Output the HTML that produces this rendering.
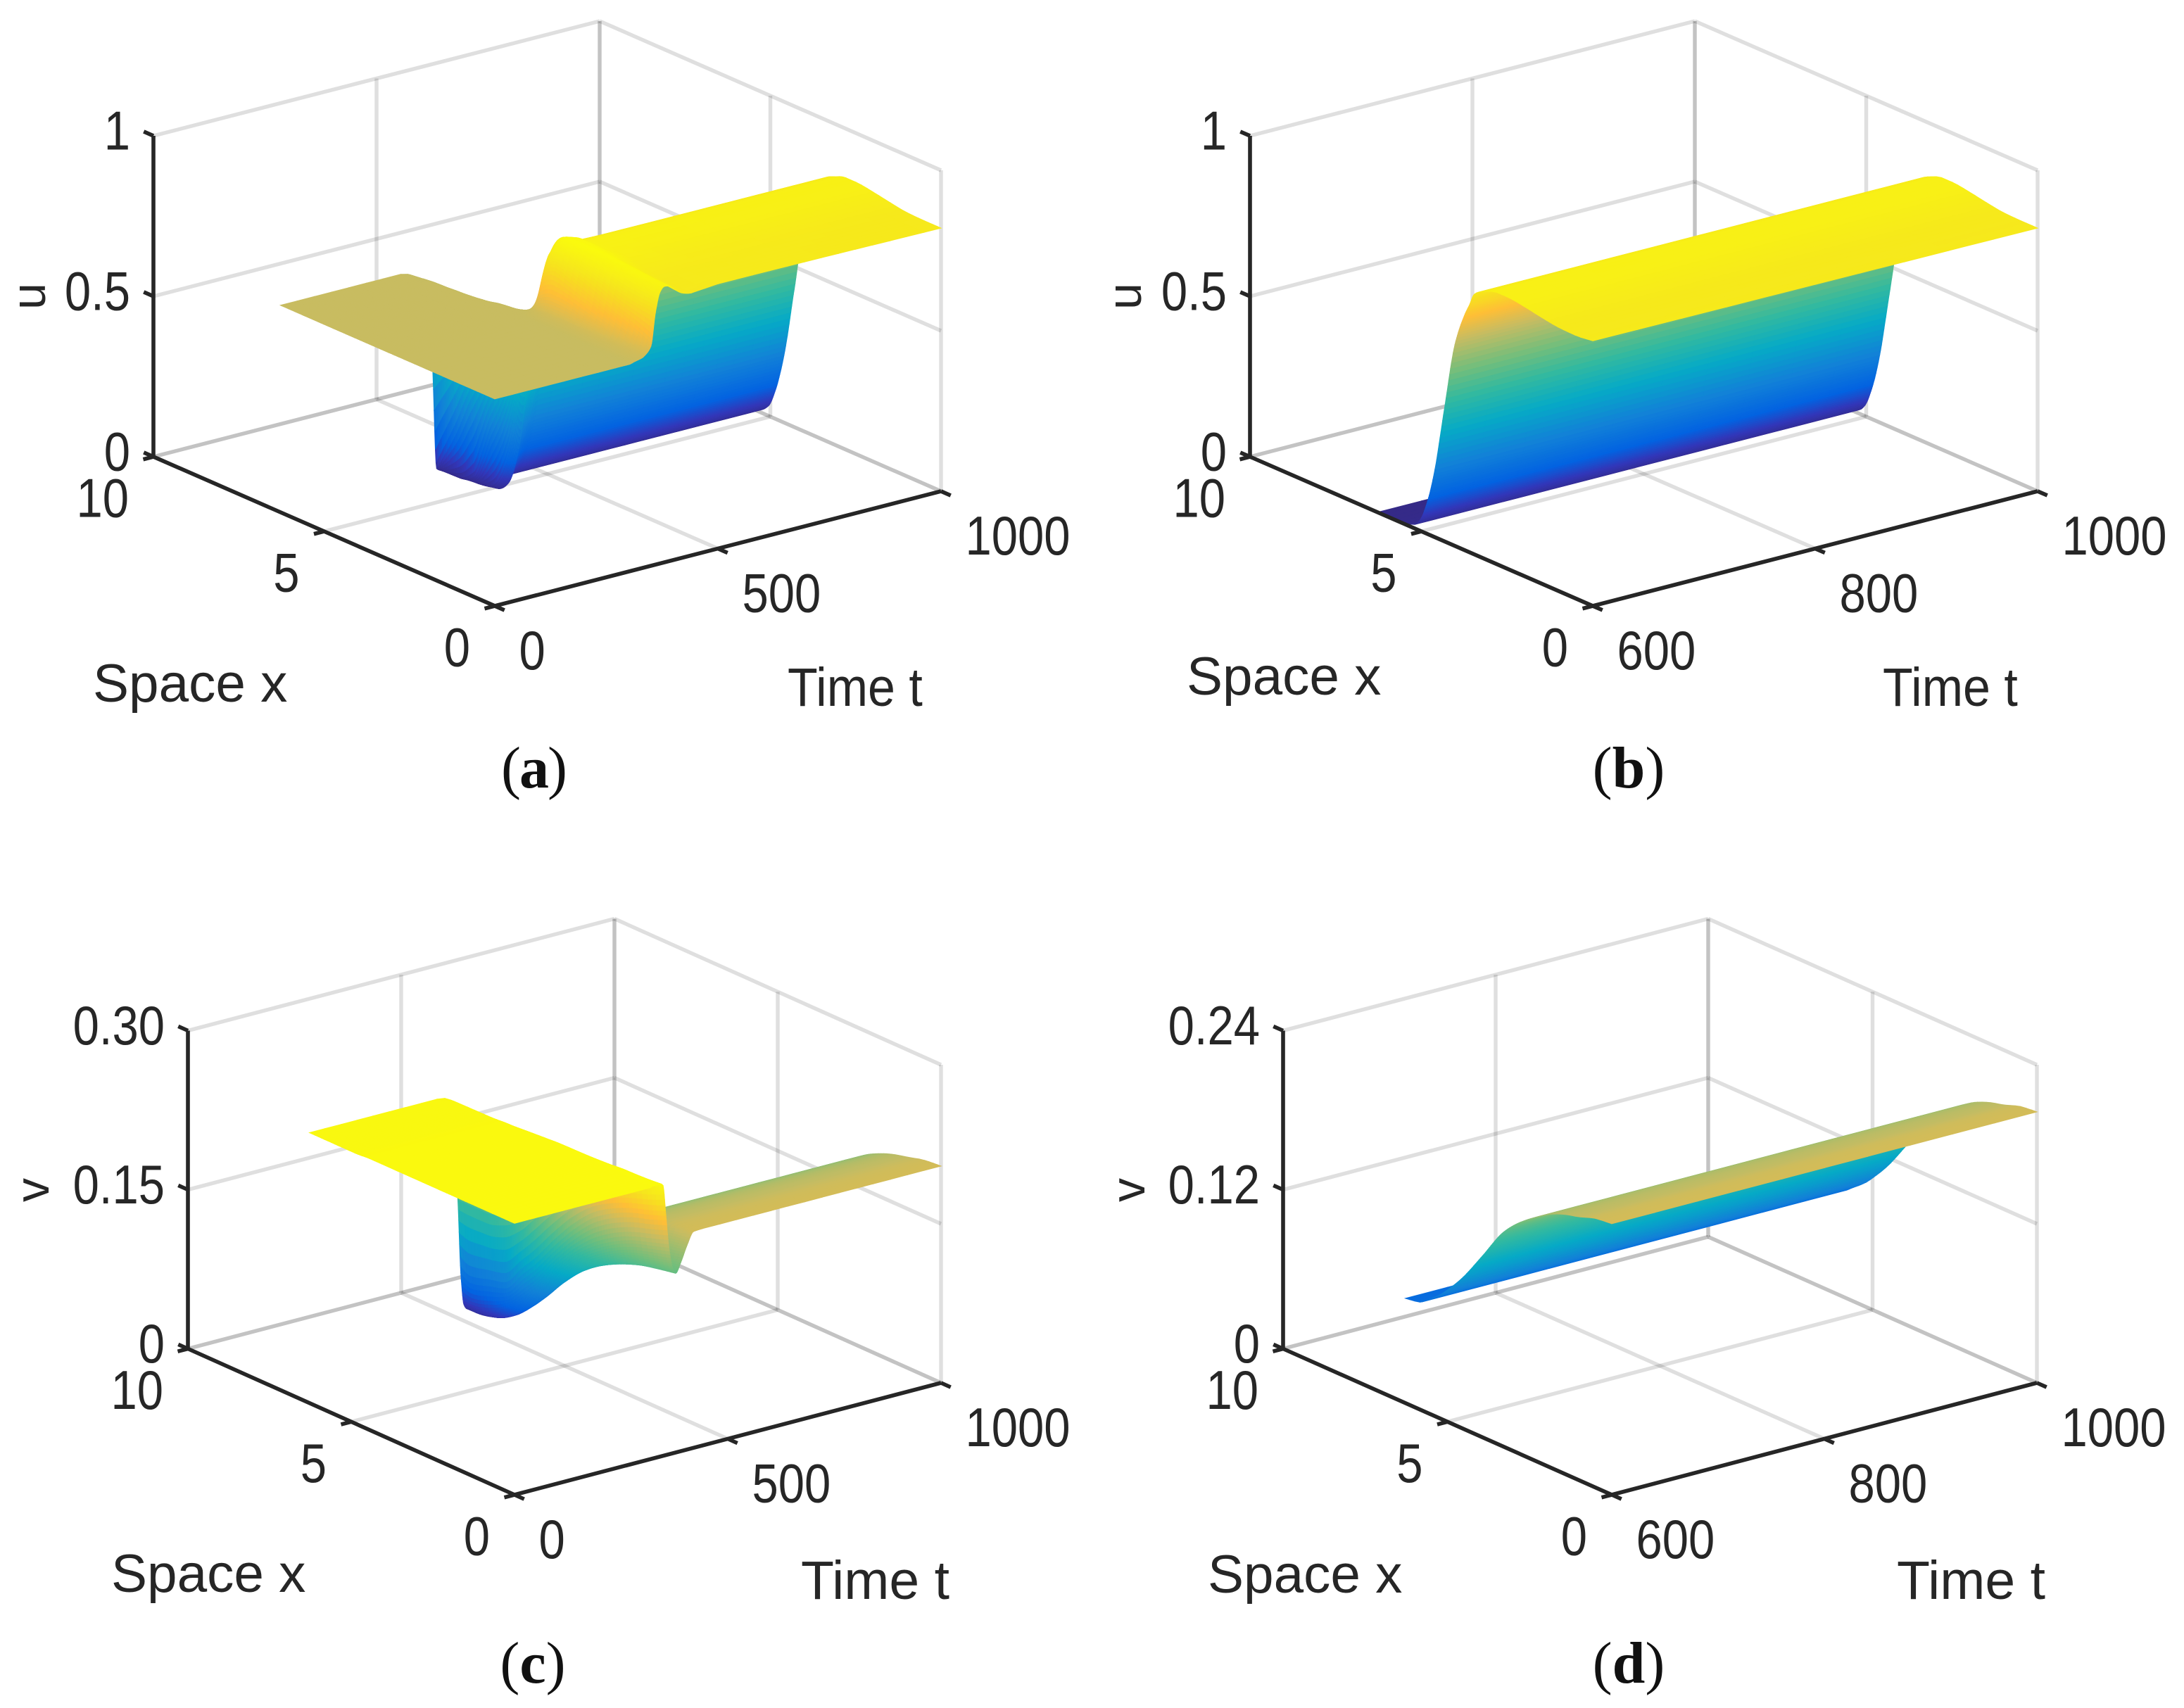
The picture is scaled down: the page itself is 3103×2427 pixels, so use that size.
<!DOCTYPE html>
<html lang="en">
<head>
<meta charset="utf-8">
<title>Surface plots of u and v over space and time</title>
<style>
html,body{margin:0;padding:0;background:#fff;}
svg{display:block;}
text{font-family:"Liberation Sans",Arial,sans-serif;fill:#262626;}
.cap{font-family:"Liberation Serif","Times New Roman",serif;font-size:84px;fill:#111;}
.cap tspan{font-weight:bold;}
.lab{font-size:76.5px;}
</style>
</head>
<body>
<svg id="figure" xmlns="http://www.w3.org/2000/svg" width="3103" height="2427" viewBox="0 0 3103 2427">
  <rect width="3103" height="2427" fill="#fff"/>
  <g id="panel-a"></g>
  <g id="panel-b"></g>
  <g id="panel-c"></g>
  <g id="panel-d"></g>

  <text class="lab" x="132" y="997">Space x</text>
  <text class="lab" transform="translate(1119,1003) scale(1,1.1)" style="font-size:70px">Time t</text>
  <text class="lab" transform="translate(64,421) rotate(-90)" text-anchor="middle" style="font-size:68px">u</text>
  <text class="cap" x="758" y="1119" text-anchor="middle" style="letter-spacing:-2px">(<tspan>a</tspan>)</text>

  <text class="lab" x="1686" y="987">Space x</text>
  <text class="lab" transform="translate(2675,1003) scale(1,1.1)" style="font-size:70px">Time t</text>
  <text class="lab" transform="translate(1621,421) rotate(-90)" text-anchor="middle" style="font-size:68px">u</text>
  <text class="cap" x="2314" y="1119" text-anchor="middle">(<tspan>b</tspan>)</text>

  <text class="lab" x="158" y="2262">Space x</text>
  <text class="lab" x="1138" y="2272" style="font-size:77px">Time t</text>
  <text class="lab" transform="translate(69,1691) rotate(-90)" text-anchor="middle" style="font-size:68px">v</text>
  <text class="cap" x="757" y="2391" text-anchor="middle">(<tspan>c</tspan>)</text>

  <text class="lab" x="1716" y="2263">Space x</text>
  <text class="lab" x="2695" y="2272" style="font-size:77px">Time t</text>
  <text class="lab" transform="translate(1626,1691) rotate(-90)" text-anchor="middle" style="font-size:68px">v</text>
  <text class="cap" x="2314" y="2391" text-anchor="middle">(<tspan>d</tspan>)</text>
</svg>

<script>
/* ---------- tick labels ---------- */
const spaceTicks = [0, 5, 10];
const timeTicksFull = [0, 500, 1000];
const timeTicksLate = [600, 800, 1000];
const uTicks = [0, 0.5, 1];
const uTickLabels = ['0', '0.5', '1'];
const vTicksFull = [0, 0.15, 0.30];
const vTickLabelsFull = ['0', '0.15', '0.30'];
const vTicksLate = [0, 0.12, 0.24];
const vTickLabelsLate = ['0', '0.12', '0.24'];

/* ---------- panel (a): u(x,t), t = 0..1000 ---------- */
const spaceA = [0, 0.5, 1, 1.5, 2, 2.5, 2.8, 3.1, 3.4, 3.7, 4, 4.3, 4.6, 4.85, 5.05, 5.3, 5.7, 6.28];
const timeA = [0, 270, 285, 300, 315, 330, 340, 350, 360, 370, 380, 390, 405, 420, 440, 500, 1000];
const uA = [
  [.645,.645,.645,.645,.645,.645,.645,.645,.645,.645,.645,.645,.645,.645,.645,.645,.645,.645],
  [.645,.645,.645,.645,.645,.645,.645,.645,.645,.645,.645,.645,.645,.645,.645,.645,.645,.645],
  [.645,.645,.645,.645,.645,.645,.645,.645,.645,.645,.645,.645,.645,.645,.645,.645,.644,.64],
  [.645,.645,.645,.645,.645,.645,.645,.645,.645,.645,.645,.645,.643,.641,.64,.638,.636,.625],
  [.65,.65,.65,.65,.65,.65,.65,.648,.645,.645,.643,.635,.622,.615,.61,.605,.60,.585],
  [.655,.657,.658,.66,.66,.66,.66,.655,.645,.635,.625,.61,.59,.57,.56,.55,.53,.51],
  [.665,.67,.68,.69,.70,.71,.71,.695,.645,.62,.60,.58,.55,.53,.505,.48,.43,.36],
  [.685,.71,.73,.75,.77,.79,.80,.78,.645,.62,.54,.49,.43,.38,.33,.27,.15,.012],
  [.785,.79,.80,.82,.835,.845,.85,.825,.67,.61,.47,.34,.24,.17,.10,.03,.004,.002],
  [.845,.85,.855,.86,.87,.875,.875,.84,.735,.60,.42,.18,.06,.015,.006,.002,.001,0],
  [.86,.865,.87,.875,.88,.88,.88,.86,.79,.61,.42,.14,.03,.005,.003,.001,0,0],
  [.858,.86,.865,.87,.875,.875,.875,.865,.815,.67,.47,.22,.06,.012,.004,.002,0,0],
  [.84,.845,.85,.855,.865,.87,.87,.855,.82,.71,.55,.31,.12,.03,.01,.004,.001,0],
  [.825,.83,.835,.845,.855,.855,.855,.845,.82,.72,.61,.38,.17,.06,.02,.006,.002,0],
  [.818,.82,.825,.835,.845,.85,.85,.84,.82,.72,.645,.43,.21,.09,.032,.008,.002,0],
  [.825,.825,.826,.832,.842,.848,.848,.838,.818,.72,.645,.43,.21,.09,.032,.008,.002,0],
  [.82,.82,.822,.83,.84,.847,.847,.836,.818,.72,.645,.43,.21,.09,.032,.008,.002,0]
];

/* ---------- panel (b): u(x,t), t = 600..1000 ---------- */
const spaceB = [0, 0.5, 1, 1.5, 2, 2.5, 2.8, 3.1, 3.3, 3.46, 3.6, 3.72, 4.02, 4.33, 4.63, 4.84, 5.04, 5.2, 5.35, 5.6, 6.28];
const timeB = [600, 1000];
const uB = [
  [.826,.82,.822,.83,.84,.847,.847,.836,.825,.81,.77,.738,.628,.411,.196,.094,.033,.012,.006,.002,0],
  [.82,.82,.822,.83,.84,.847,.847,.836,.825,.81,.77,.738,.628,.411,.196,.094,.033,.012,.006,.002,0]
];

/* ---------- panel (c): v(x,t), t = 0..1000 ---------- */
const spaceC = [0, 0.5, 1, 1.5, 2.16, 2.8, 3.43, 4, 4.4, 4.9, 5.4, 6, 6.28];
const timeC = [0, 300, 317, 325, 335, 342, 348, 355, 362, 370, 378, 390, 405, 420, 440, 1000];
const vC = [
  [.256,.256,.256,.256,.256,.256,.256,.256,.256,.255,.255,.255,.255],
  [.256,.256,.256,.256,.256,.256,.256,.256,.256,.255,.255,.255,.255],
  [.256,.256,.256,.256,.256,.256,.256,.256,.256,.255,.255,.255,.254],
  [.257,.257,.257,.257,.257,.257,.256,.255,.254,.253,.252,.25,.248],
  [.257,.257,.257,.256,.255,.254,.252,.25,.247,.243,.24,.235,.23],
  [.257,.256,.255,.253,.25,.245,.238,.228,.22,.21,.205,.20,.195],
  [.255,.25,.245,.24,.232,.222,.205,.185,.17,.16,.155,.155,.155],
  [.226,.22,.215,.208,.195,.175,.15,.125,.11,.09,.085,.08,.085],
  [.195,.19,.185,.178,.165,.148,.125,.10,.085,.07,.06,.055,.055],
  [.176,.172,.168,.162,.15,.135,.114,.092,.078,.063,.054,.05,.05],
  [.169,.166,.1625,.157,.147,.133,.113,.091,.077,.062,.053,.049,.05],
  [.178,.175,.172,.166,.155,.14,.118,.096,.08,.065,.056,.052,.053],
  [.193,.19,.186,.18,.17,.153,.132,.11,.095,.08,.07,.063,.062],
  [.204,.202,.197,.192,.182,.167,.147,.127,.11,.094,.082,.073,.071],
  [.2045,.203,.199,.195,.186,.172,.155,.135,.119,.102,.09,.08,.079],
  [.2045,.203,.199,.195,.186,.172,.155,.135,.119,.102,.09,.08,.079]
];

/* ---------- panel (d): v(x,t), t = 600..1000 ---------- */
const spaceD = [0, 0.5, 0.96, 1.4, 1.8, 2.25, 2.87, 3.29, 3.93, 4.56, 4.88, 5.2, 5.63, 5.84, 6.28];
const timeD = [600, 1000];
const vD = [
  [.2045,.203,.199,.196,.192,.185,.173,.162,.137,.113,.103,.094,.085,.081,.079],
  [.2045,.203,.199,.196,.192,.185,.173,.162,.137,.113,.103,.094,.085,.081,.079]
];

/* ---------- colour map (parula-like) ---------- */
const mapPos = [0, .06, .127, .25, .38, .5, .6, .73, .82, .9, .93, 1];
const mapRgb = [[53,42,135],[50,55,185],[3,99,225],[18,130,215],[6,170,198],[50,185,160],[110,190,125],[198,188,98],[254,190,55],[247,222,32],[246,232,28],[250,250,14]];
function colormap(f) {
  f = Math.max(0, Math.min(1, f));
  let k = 0;
  while (k < mapPos.length - 2 && f > mapPos[k + 1]) k++;
  const w = (f - mapPos[k]) / (mapPos[k + 1] - mapPos[k]);
  const a = mapRgb[k], b = mapRgb[k + 1];
  return 'rgb(' + Math.round(a[0] + (b[0] - a[0]) * w) + ',' + Math.round(a[1] + (b[1] - a[1]) * w) + ',' + Math.round(a[2] + (b[2] - a[2]) * w) + ')';
}

/* monotone cubic curve through the nodes, used to draw smooth facets between data nodes */
function monotoneSlopes(xs, ys) {
  const n = xs.length, m = new Array(n).fill(0), d = [];
  for (let i = 0; i < n - 1; i++) d.push((ys[i + 1] - ys[i]) / (xs[i + 1] - xs[i]));
  if (n === 2) { m[0] = m[1] = d[0]; return m; }
  m[0] = d[0]; m[n - 1] = d[n - 2];
  for (let i = 1; i < n - 1; i++) {
    if (d[i - 1] * d[i] <= 0) { m[i] = 0; continue; }
    const h0 = xs[i] - xs[i - 1], h1 = xs[i + 1] - xs[i];
    const w0 = 2 * h1 + h0, w1 = h1 + 2 * h0;
    m[i] = (w0 + w1) / (w0 / d[i - 1] + w1 / d[i]);
  }
  return m;
}
function hermite(x0, x1, y0, y1, m0, m1, x) {
  const h = x1 - x0, s = (x - x0) / h, s2 = s * s, s3 = s2 * s;
  return (2 * s3 - 3 * s2 + 1) * y0 + (s3 - 2 * s2 + s) * h * m0 + (-2 * s3 + 3 * s2) * y1 + (s3 - s2) * h * m1;
}
function resample(xs, ys, fine) {
  const m = monotoneSlopes(xs, ys);
  return fine.map(f => {
    let i = 0;
    while (i < xs.length - 2 && f.x > xs[i + 1]) i++;
    return hermite(xs[i], xs[i + 1], ys[i], ys[i + 1], m[i], m[i + 1], f.x);
  });
}

const NS = 'http://www.w3.org/2000/svg';

function drawLine(parent, p, q, stroke, width, name) {
  const el = document.createElementNS(NS, 'line');
  
  
  el.setAttribute('x1', p[0]); el.setAttribute('y1', p[1]);
  el.setAttribute('x2', q[0]); el.setAttribute('y2', q[1]);
  el.setAttribute('stroke', stroke);
  el.setAttribute('stroke-width', width);
  el.setAttribute('stroke-linecap', 'butt');
  parent.appendChild(el);
}
function drawLabel(parent, str, p, anchor, name) {
  const el = document.createElementNS(NS, 'text');
  
  
  el.setAttribute('transform', 'translate(' + p[0] + ',' + (p[1] + 27) + ') scale(1,1.17)');
  el.setAttribute('text-anchor', anchor);
  el.setAttribute('font-size', '67');
  el.textContent = str;
  parent.appendChild(el);
}

function renderPanel(cfg) {
  const root = document.getElementById(cfg.id);
  const O = cfg.front, L = cfg.left, R = cfg.right, H = cfg.height;
  const xScale = x => x / 10;
  const tScale = t => (t - cfg.tMin) / (1000 - cfg.tMin);
  const zScale = z => z / cfg.zMax;
  const project = (x, t, z) => {
    const a = xScale(x), b = tScale(t), c = zScale(z);
    return [O[0] + a * (L[0] - O[0]) + b * (R[0] - O[0]),
            O[1] + a * (L[1] - O[1]) + b * (R[1] - O[1]) - c * H];
  };
  const depth = (x, t, z) => 596 * xScale(x) + 458 * tScale(t) - 162 * zScale(z);
  const tMid = (cfg.tMin + 1000) / 2, zTop = cfg.zMax, zMid = cfg.zMax / 2;
  const lite = 'rgba(38,38,38,0.15)';

  const grid = document.createElementNS(NS, 'g');
  
  
  root.appendChild(grid);
  const gw = 5.4;
  [zTop, zMid].forEach(z => {
    drawLine(grid, project(10, cfg.tMin, z), project(10, 1000, z), lite, gw, 'grid-line-x-wall');
    drawLine(grid, project(10, 1000, z), project(0, 1000, z), lite, gw, 'grid-line-t-wall');
  });
  [0, 1].forEach(() => {
    drawLine(grid, project(10, cfg.tMin, 0), project(10, 1000, 0), lite, gw, 'box-floor-edge');
    drawLine(grid, project(10, 1000, 0), project(0, 1000, 0), lite, gw, 'box-floor-edge');
    drawLine(grid, project(10, 1000, 0), project(10, 1000, zTop), lite, gw, 'box-back-corner');
  });
  drawLine(grid, project(0, 1000, 0), project(0, 1000, zTop), lite, gw, 'box-right-edge');
  drawLine(grid, project(10, tMid, 0), project(10, tMid, zTop), lite, gw, 'grid-line-t-mid');
  drawLine(grid, project(5, 1000, 0), project(5, 1000, zTop), lite, gw, 'grid-line-x-mid');
  drawLine(grid, project(5, cfg.tMin, 0), project(5, 1000, 0), lite, gw, 'floor-grid-x-mid');
  drawLine(grid, project(0, tMid, 0), project(10, tMid, 0), lite, gw, 'floor-grid-t-mid');

  /* surface: sample the data matrix on a finer drawing grid */
  const xs = cfg.space, ts = cfg.time, Z = cfg.values;
  const step = (cfg.colorMax - cfg.colorMin) * 0.008;
  const fineX = [], fineT = [];
  for (let i = 0; i < xs.length - 1; i++) {
    let du = 0;
    for (let j = 0; j < ts.length; j++) du = Math.max(du, Math.abs(Z[j][i + 1] - Z[j][i]));
    const n = Math.max(Math.ceil((xs[i + 1] - xs[i]) / 0.2), Math.min(12, Math.ceil(du / step)));
    for (let k = 0; k < n; k++) fineX.push({ x: xs[i] + (xs[i + 1] - xs[i]) * k / n });
  }
  fineX.push({ x: xs[xs.length - 1] });
  for (let j = 0; j < ts.length - 1; j++) {
    let du = 0;
    for (let i = 0; i < xs.length; i++) du = Math.max(du, Math.abs(Z[j + 1][i] - Z[j][i]));
    const n = Math.max(Math.ceil((ts[j + 1] - ts[j]) / 40), Math.min(7, Math.ceil(du / step)));
    for (let k = 0; k < n; k++) fineT.push({ x: ts[j] + (ts[j + 1] - ts[j]) * k / n });
  }
  fineT.push({ x: ts[ts.length - 1] });

  const rowsFine = Z.map(row => resample(xs, row, fineX));
  const cols = fineX.map((f, ix) => resample(ts, rowsFine.map(r => r[ix]), fineT));

  const quads = [];
  for (let ix = 0; ix < fineX.length - 1; ix++) {
    for (let it = 0; it < fineT.length - 1; it++) {
      const X0 = fineX[ix].x, X1 = fineX[ix + 1].x, T0 = fineT[it].x, T1 = fineT[it + 1].x;
      const zA = cols[ix][it], zB = cols[ix + 1][it], zC = cols[ix + 1][it + 1], zD = cols[ix][it + 1];
      const zc = (zA + zB + zC + zD) / 4;
      quads.push({
        pts: [project(X0, T0, zA), project(X1, T0, zB), project(X1, T1, zC), project(X0, T1, zD)],
        d: depth((X0 + X1) / 2, (T0 + T1) / 2, zc),
        c: (zc - cfg.colorMin) / (cfg.colorMax - cfg.colorMin)
      });
    }
  }
  quads.sort((p, q) => q.d - p.d);
  const surf = document.createElementNS(NS, 'g');
  
  
  const frag = document.createDocumentFragment();
  quads.forEach(q => {
    const col = colormap(q.c);
    const poly = document.createElementNS(NS, 'polygon');
    
    
    poly.setAttribute('points', q.pts.map(p => p[0].toFixed(1) + ',' + p[1].toFixed(1)).join(' '));
    poly.setAttribute('fill', col);
    poly.setAttribute('stroke', col);
    poly.setAttribute('stroke-width', '1');
    frag.appendChild(poly);
  });
  surf.appendChild(frag);
  root.appendChild(surf);

  /* axes */
  const axes = document.createElementNS(NS, 'g');
  
  
  root.appendChild(axes);
  const dark = '#262626';
  const aw = 5.6;
  drawLine(axes, project(10, cfg.tMin, 0), project(10, cfg.tMin, zTop), dark, aw, 'z-axis-line');
  drawLine(axes, project(10, cfg.tMin, 0), project(0, cfg.tMin, 0), dark, aw, 'x-axis-line');
  drawLine(axes, project(0, cfg.tMin, 0), project(0, 1000, 0), dark, aw, 'time-axis-line');

  const lenX = Math.hypot(L[0] - O[0], L[1] - O[1]), lenT = Math.hypot(R[0] - O[0], R[1] - O[1]);
  const xu = [(L[0] - O[0]) / lenX, (L[1] - O[1]) / lenX], tu = [(R[0] - O[0]) / lenT, (R[1] - O[1]) / lenT];
  const tk = 15;
  cfg.zTicks.forEach((z, k) => {
    const p = project(10, cfg.tMin, z);
    drawLine(axes, p, [p[0] + xu[0] * tk, p[1] + xu[1] * tk], dark, aw, 'z-tick');
    drawLabel(axes, cfg.zLabels[k], [p[0] - 33, p[1] - 7.5], 'end', 'z-tick-label');
  });
  spaceTicks.forEach(x => {
    const p = project(x, cfg.tMin, 0);
    drawLine(axes, p, [p[0] - tu[0] * tk, p[1] - tu[1] * tk], dark, aw, 'x-tick');
    drawLabel(axes, String(x), [p[0] - 35, p[1] + 58.5], 'end', 'x-tick-label');
  });
  cfg.tTicks.forEach(t => {
    const p = project(0, t, 0);
    drawLine(axes, p, [p[0] - xu[0] * tk, p[1] - xu[1] * tk], dark, aw, 'time-tick');
    drawLabel(axes, String(t), [p[0] + 34.5, p[1] + 63], 'start', 'time-tick-label');
  });
}

renderPanel({ id: 'panel-a', space: spaceA, time: timeA, values: uA, tMin: 0, zMax: 1,
  colorMin: 0, colorMax: .88, front: [703, 861], left: [218, 649], right: [1337, 698], height: 456,
  zTicks: uTicks, zLabels: uTickLabels, tTicks: timeTicksFull });
renderPanel({ id: 'panel-b', space: spaceB, time: timeB, values: uB, tMin: 600, zMax: 1,
  colorMin: 0, colorMax: .88, front: [2263, 861], left: [1776, 649], right: [2895, 698], height: 456,
  zTicks: uTicks, zLabels: uTickLabels, tTicks: timeTicksLate });
renderPanel({ id: 'panel-c', space: spaceC, time: timeC, values: vC, tMin: 0, zMax: .3,
  colorMin: .045, colorMax: .257, front: [731, 2124], left: [267, 1916.5], right: [1337, 1965], height: 452,
  zTicks: vTicksFull, zLabels: vTickLabelsFull, tTicks: timeTicksFull });
renderPanel({ id: 'panel-d', space: spaceD, time: timeD, values: vD, tMin: 600, zMax: .24,
  colorMin: .045, colorMax: .257, front: [2290, 2124], left: [1823, 1916.5], right: [2894, 1965], height: 452,
  zTicks: vTicksLate, zLabels: vTickLabelsLate, tTicks: timeTicksLate });
</script>
</body>
</html>
